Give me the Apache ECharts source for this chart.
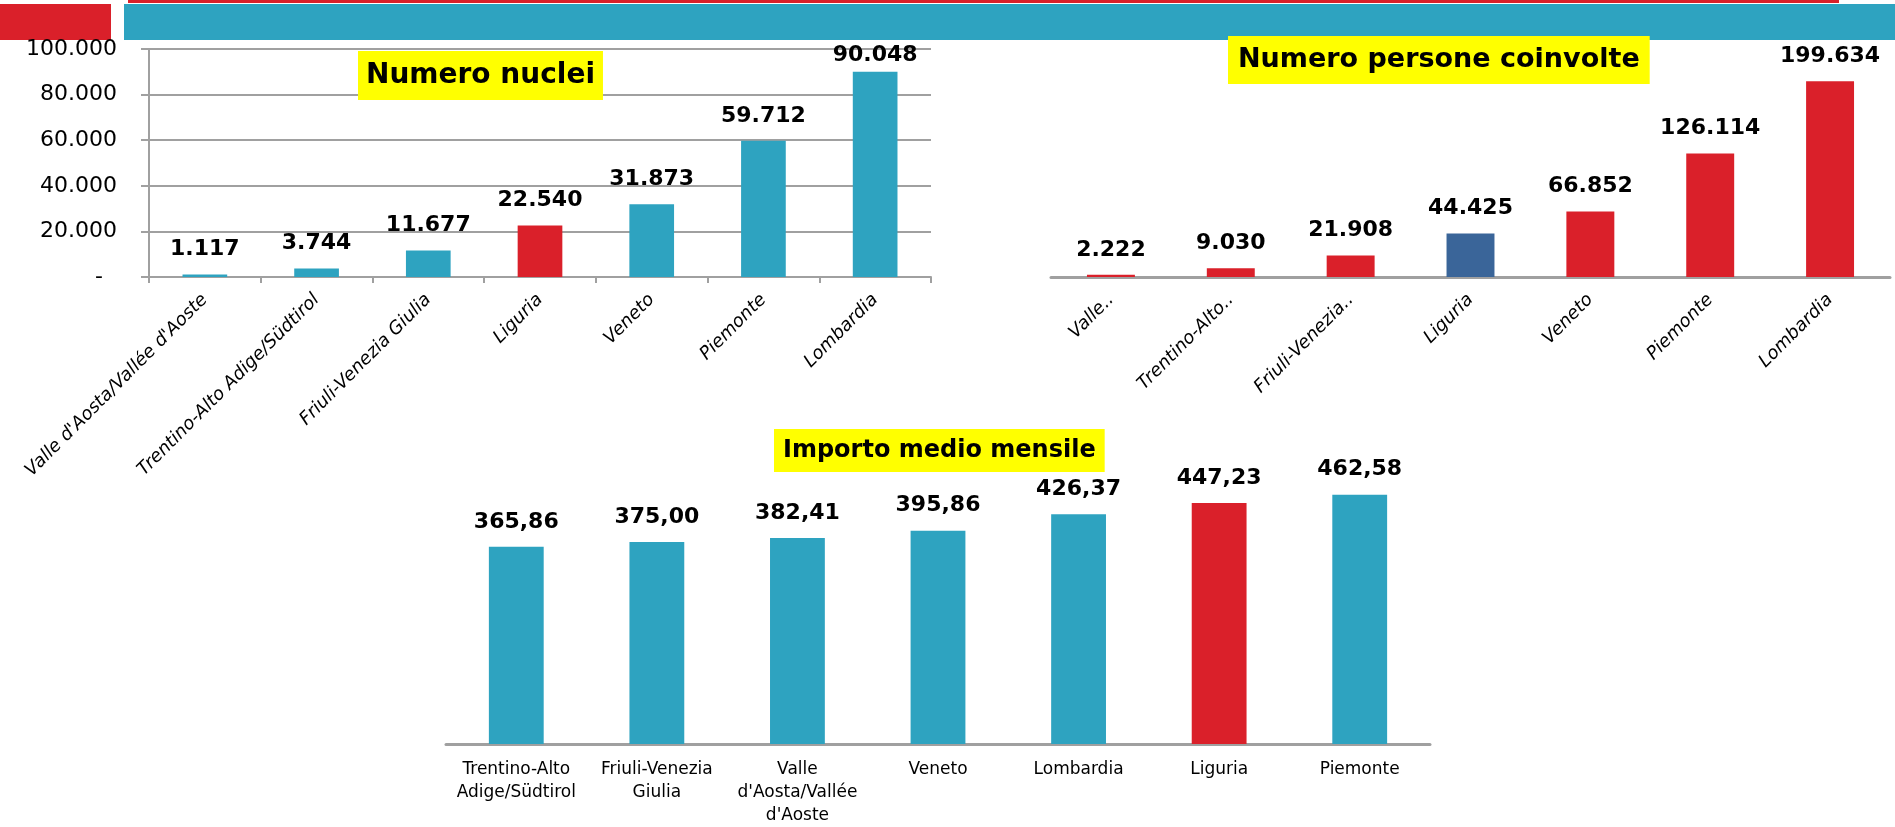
<!DOCTYPE html>
<html>
<head>
<meta charset="utf-8">
<script src="https://cdn.jsdelivr.net/npm/echarts@6/dist/echarts.min.js"></script>
<style>
    html, body { margin: 0; padding: 0; background: #fff; }
    #chart { width: 1895px; height: 827px; }
</style>
</head>
<body>
<div id="chart"></div>
<script>
// numero nuclei / persone (stesso ordine di regioni)
const regioni = ["Valle d'Aosta/Vallée d'Aoste", 'Trentino-Alto Adige/Südtirol', 'Friuli-Venezia Giulia', 'Liguria', 'Veneto', 'Piemonte', 'Lombardia']
const nuclei = [1117, 3744, 11677, 22540, 31873, 59712, 90048]
const persone = [2222, 9030, 21908, 44425, 66852, 126114, 199634]

// importo medio mensile
const regioniImporto = ['Trentino-Alto Adige/Südtirol', 'Friuli-Venezia Giulia', "Valle d'Aosta/Vallée d'Aoste", 'Veneto', 'Lombardia', 'Liguria', 'Piemonte']
const importo = [365.86, 375.00, 382.41, 395.86, 426.37, 447.23, 462.58]
const importoTickLabels = ['Trentino-Alto\nAdige/Südtirol', 'Friuli-Venezia\nGiulia', "Valle\nd'Aosta/Vallée\nd'Aoste", 'Veneto', 'Lombardia', 'Liguria', 'Piemonte']

const TEAL = '#2ea3c0'
const RED = '#da202a'
const BLUE = '#3a6599'
const GREY = '#a0a0a0'
const FONT = 'DejaVu Sans'

const migliaia = (v) => String(v).replace(/\B(?=(\d{3})+(?!\d))/g, '.')
const decimali = (v) => v.toFixed(2).replace('.', ',')

const valueLabel = (fmt) => ({
    show: true,
    position: 'top',
    distance: 14,
    color: '#000',
    fontFamily: FONT,
    fontWeight: 'bold',
    fontSize: 22,
    formatter: (p) => fmt(p.value)
})

const titleBox = (text, left, top, size, pad) => ({
    text: text,
    left: left,
    top: top,
    z: 10,
    backgroundColor: '#ffff00',
    padding: pad,
    textStyle: { fontFamily: FONT, fontWeight: 'bold', fontSize: size, lineHeight: size + 1, color: '#000' }
})

const charts = echarts.init(document.getElementById('chart'))
charts.setOption({
    animation: false,
    graphic: [
        { type: 'rect', z: 0, shape: { x: 128, y: 0, width: 1711, height: 3 }, style: { fill: RED } },
        { type: 'rect', z: 0, shape: { x: 0, y: 4, width: 111, height: 36 }, style: { fill: RED } },
        { type: 'rect', z: 0, shape: { x: 124, y: 4, width: 1771, height: 36 }, style: { fill: TEAL } }
    ],
    title: [
        titleBox('Numero nuclei', 358, 51, 28, [10, 8]),
        titleBox('Numero persone coinvolte', 1228, 36, 27, [10, 10]),
        titleBox('Importo medio mensile', 774, 429, 24, [9, 9])
    ],
    grid: [
        { left: 149, top: 49, width: 782, height: 228 },
        { left: 1051, top: 32, width: 839, height: 245 },
        { left: 446, top: 474.5, width: 984, height: 273.5 }
    ],
    xAxis: [
        {
            type: 'category', gridIndex: 0, data: regioni,
            axisLine: { lineStyle: { color: GREY, width: 2 } },
            axisTick: { show: true, length: 6, lineStyle: { color: GREY, width: 2 } },
            axisLabel: {
                interval: 0, rotate: 45, margin: 20, color: '#000',
                fontFamily: FONT, fontStyle: 'italic', fontSize: 18
            }
        },
        {
            type: 'category', gridIndex: 1, data: regioni,
            axisLine: { lineStyle: { color: GREY, width: 3 } },
            axisTick: { show: false },
            axisLabel: {
                interval: 0, rotate: 45, margin: 20, color: '#000',
                fontFamily: FONT, fontStyle: 'italic', fontSize: 18,
                formatter: (v) => v.indexOf(' ') > 0 ? v.split(' ')[0] + '..' : v
            }
        },
        {
            type: 'category', gridIndex: 2, data: regioniImporto,
            axisLine: { lineStyle: { color: GREY, width: 3 } },
            axisTick: { show: false },
            axisLabel: {
                interval: 0, margin: 14, color: '#000',
                fontFamily: FONT, fontSize: 17, lineHeight: 23,
                formatter: (v, i) => importoTickLabels[i]
            }
        }
    ],
    yAxis: [
        {
            type: 'value', gridIndex: 0, min: 0, max: 100000, interval: 20000,
            axisLine: { show: true, lineStyle: { color: GREY, width: 2 } },
            axisTick: { show: true, length: 8, lineStyle: { color: GREY, width: 2 } },
            splitLine: { lineStyle: { color: GREY, width: 2 } },
            axisLabel: {
                margin: 32, color: '#000', fontFamily: FONT, fontSize: 22,
                formatter: (v) => v === 0 ? '-  ' : migliaia(v)
            }
        },
        { type: 'value', gridIndex: 1, min: 0, max: 250000, show: false, splitLine: { show: false } },
        { type: 'value', gridIndex: 2, min: 0, max: 500, show: false, splitLine: { show: false } }
    ],
    series: [
        {
            name: 'Numero nuclei',
            type: 'bar', xAxisIndex: 0, yAxisIndex: 0, barWidth: '40%',
            data: nuclei.map((v, i) => i === nuclei.length - 1 ? { value: v, label: { distance: 5 } } : v),
            itemStyle: { color: (p) => regioni[p.dataIndex] === 'Liguria' ? RED : TEAL },
            label: valueLabel(migliaia)
        },
        {
            name: 'Numero persone coinvolte',
            type: 'bar', xAxisIndex: 1, yAxisIndex: 1, barWidth: '40%',
            data: persone,
            itemStyle: { color: (p) => regioni[p.dataIndex] === 'Liguria' ? BLUE : RED },
            label: valueLabel(migliaia)
        },
        {
            name: 'Importo medio mensile',
            type: 'bar', xAxisIndex: 2, yAxisIndex: 2, barWidth: '39%',
            data: importo,
            itemStyle: { color: (p) => regioniImporto[p.dataIndex] === 'Liguria' ? RED : TEAL },
            label: valueLabel(decimali)
        }
    ]
})
</script>
</body>
</html>
